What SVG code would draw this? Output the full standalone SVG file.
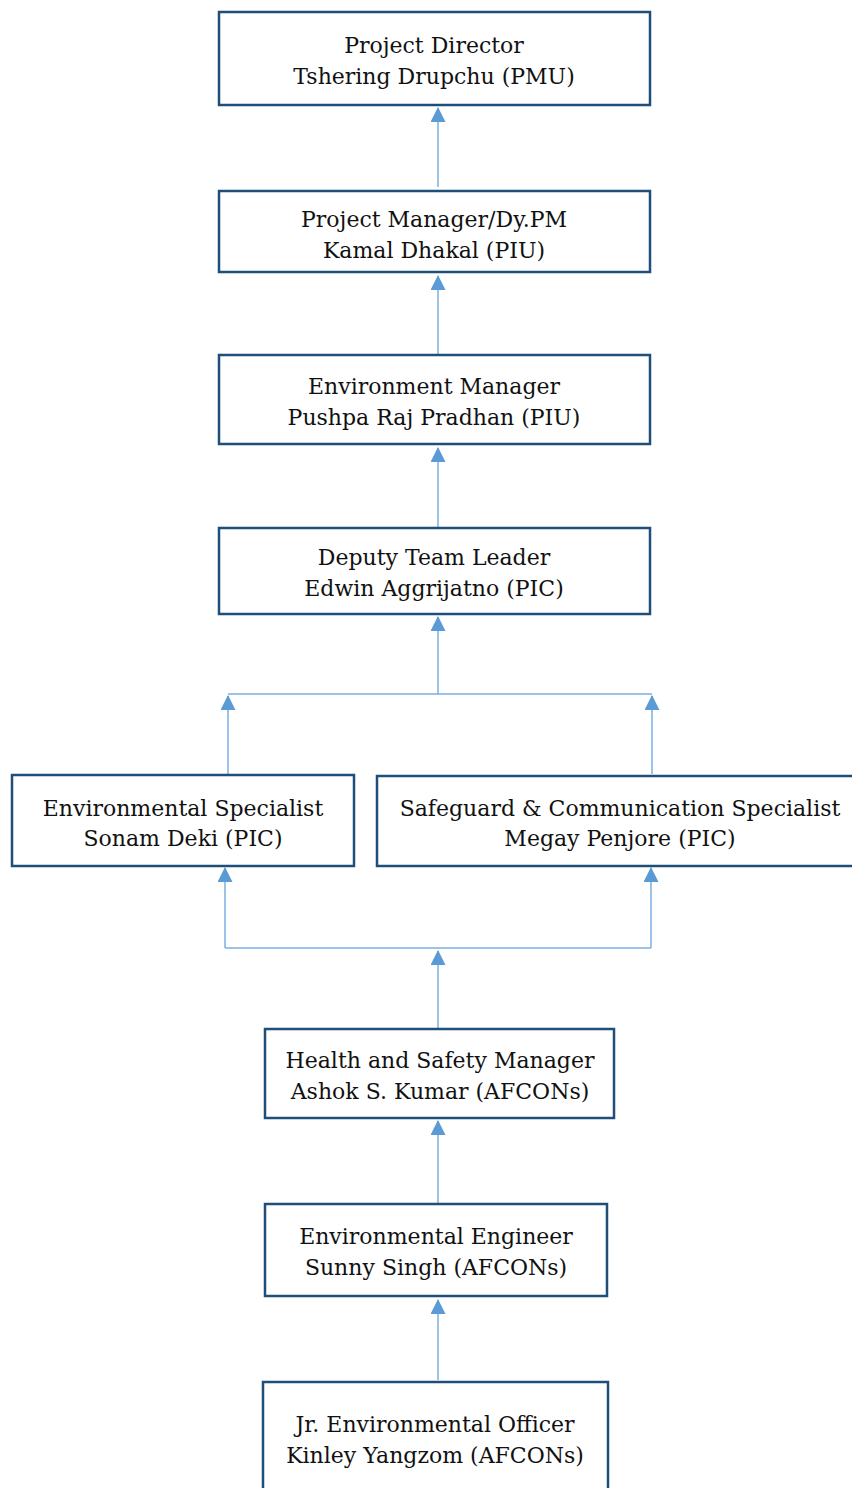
<svg xmlns="http://www.w3.org/2000/svg" width="852" height="1488" viewBox="0 0 852 1488">
<style>
.box{fill:#fff;stroke:#1F4E79;stroke-width:2.5}
.t{font-family:"DejaVu Serif","Liberation Serif",serif;font-size:22px;fill:#111;text-anchor:middle}
.c{fill:none;stroke:#7AB0E0;stroke-width:1.5}
</style>
<defs>
<marker id="up" markerUnits="userSpaceOnUse" markerWidth="15" markerHeight="15" viewBox="0 0 15 15" refX="14" refY="7.5" orient="auto">
<path d="M0,0 L15,7.5 L0,15 Z" fill="#5B9BD5"/>
</marker>
</defs>
<rect width="852" height="1488" fill="#fff"/>
<g id="connectors">
<path class="c" d="M438,187 V108" marker-end="url(#up)"/>
<path class="c" d="M438,354 V276" marker-end="url(#up)"/>
<path class="c" d="M438,527 V448" marker-end="url(#up)"/>
<path class="c" d="M438,694 V617" marker-end="url(#up)"/>
<path class="c" d="M228,694 H652"/>
<path class="c" d="M228,774 V696" marker-end="url(#up)"/>
<path class="c" d="M652,774 V696" marker-end="url(#up)"/>
<path class="c" d="M225,948 V868" marker-end="url(#up)"/>
<path class="c" d="M651,948 V868" marker-end="url(#up)"/>
<path class="c" d="M225,948 H651"/>
<path class="c" d="M438,1028 V951" marker-end="url(#up)"/>
<path class="c" d="M438,1203 V1121" marker-end="url(#up)"/>
<path class="c" d="M438,1380 V1300" marker-end="url(#up)"/>
</g>
<g id="n1"><rect class="box" x="219" y="12" width="431" height="93"/><text class="t" x="434" y="53">Project Director</text><text class="t" x="434" y="84">Tshering Drupchu (PMU)</text></g>
<g id="n2"><rect class="box" x="219" y="191" width="431" height="81"/><text class="t" x="434" y="227">Project Manager/Dy.PM</text><text class="t" x="434" y="258">Kamal Dhakal (PIU)</text></g>
<g id="n3"><rect class="box" x="219" y="355" width="431" height="89"/><text class="t" x="434" y="394">Environment Manager</text><text class="t" x="434" y="425">Pushpa Raj Pradhan (PIU)</text></g>
<g id="n4"><rect class="box" x="219" y="528" width="431" height="86"/><text class="t" x="434" y="565">Deputy Team Leader</text><text class="t" x="434" y="596">Edwin Aggrijatno (PIC)</text></g>
<g id="n5"><rect class="box" x="12" y="775" width="342" height="91"/><text class="t" x="183" y="816">Environmental Specialist</text><text class="t" x="183" y="846">Sonam Deki (PIC)</text></g>
<g id="n6"><rect class="box" x="377" y="776" width="480" height="90"/><text class="t" x="620" y="816">Safeguard &amp; Communication Specialist</text><text class="t" x="620" y="846">Megay Penjore (PIC)</text></g>
<g id="n7"><rect class="box" x="265" y="1029" width="349" height="89"/><text class="t" x="440" y="1068">Health and Safety Manager</text><text class="t" x="440" y="1099">Ashok S. Kumar (AFCONs)</text></g>
<g id="n8"><rect class="box" x="265" y="1204" width="342" height="92"/><text class="t" x="436" y="1244">Environmental Engineer</text><text class="t" x="436" y="1275">Sunny Singh (AFCONs)</text></g>
<g id="n9"><rect class="box" x="263" y="1382" width="345" height="110"/><text class="t" x="435" y="1432">Jr. Environmental Officer</text><text class="t" x="435" y="1463">Kinley Yangzom (AFCONs)</text></g>
</svg>
